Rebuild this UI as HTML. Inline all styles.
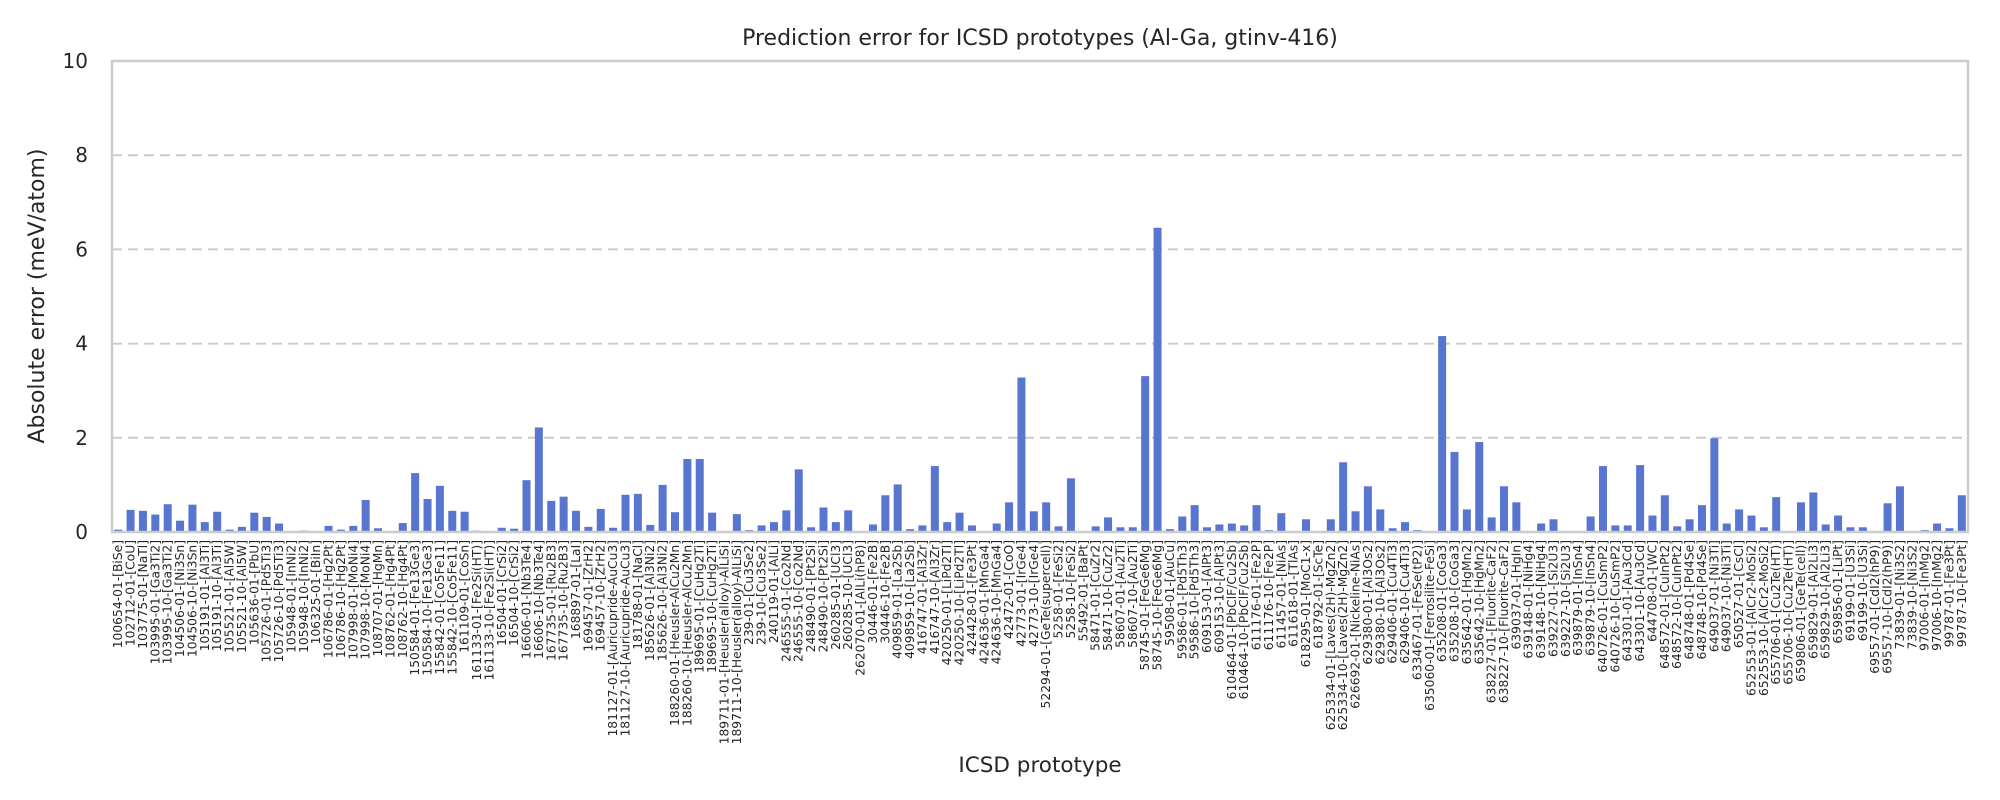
<!DOCTYPE html>
<html><head><meta charset="utf-8"><style>
html,body{margin:0;padding:0;background:#fff;}
svg{display:block;font-family:"DejaVu Sans","Liberation Sans",sans-serif;}
</style></head><body>
<svg id="chart" width="2000" height="800" viewBox="0 0 2000 800" xmlns="http://www.w3.org/2000/svg">
<text x="1040" y="45" text-anchor="middle" font-size="22" fill="#262626">Prediction error for ICSD prototypes (Al-Ga, gtinv-416)</text>
<text transform="translate(44,296) rotate(-90)" text-anchor="middle" font-size="22" fill="#262626">Absolute error (meV/atom)</text>
<text x="1040" y="772" text-anchor="middle" font-size="21.5" fill="#262626">ICSD prototype</text>
<g id="grid"></g>
<g id="bars"></g>
<g id="yticks"></g>
<g id="xticks"></g>
<rect x="112" y="61" width="1856" height="471" fill="none" stroke="#cccccc" stroke-width="2.5"/>
</svg>
<script>
const categories = ["100654-01-[BiSe]","102712-01-[CoU]","103775-01-[NaTl]","103995-01-[Ga3Ti2]","103995-10-[Ga3Ti2]","104506-01-[Ni3Sn]","104506-10-[Ni3Sn]","105191-01-[Al3Ti]","105191-10-[Al3Ti]","105521-01-[Al5W]","105521-10-[Al5W]","105636-01-[PbU]","105726-01-[Pd5Ti3]","105726-10-[Pd5Ti3]","105948-01-[InNi2]","105948-10-[InNi2]","106325-01-[BiIn]","106786-01-[Hg2Pt]","106786-10-[Hg2Pt]","107998-01-[MoNi4]","107998-10-[MoNi4]","108707-01-[HgMn]","108762-01-[Hg4Pt]","108762-10-[Hg4Pt]","150584-01-[Fe13Ge3]","150584-10-[Fe13Ge3]","155842-01-[Co5Fe11]","155842-10-[Co5Fe11]","161109-01-[CoSn]","161133-01-[Fe2Si(HT)]","161133-10-[Fe2Si(HT)]","16504-01-[CrSi2]","16504-10-[CrSi2]","16606-01-[Nb3Te4]","16606-10-[Nb3Te4]","167735-01-[Ru2B3]","167735-10-[Ru2B3]","168897-01-[LaI]","169457-01-[ZrH2]","169457-10-[ZrH2]","181127-01-[Auricupride-AuCu3]","181127-10-[Auricupride-AuCu3]","181788-01-[NaCl]","185626-01-[Al3Ni2]","185626-10-[Al3Ni2]","188260-01-[Heusler-AlCu2Mn]","188260-10-[Heusler-AlCu2Mn]","189695-01-[CuHg2Ti]","189695-10-[CuHg2Ti]","189711-01-[Heusler(alloy)-AlLiSi]","189711-10-[Heusler(alloy)-AlLiSi]","239-01-[Cu3Se2]","239-10-[Cu3Se2]","240119-01-[AlLi]","246555-01-[Co2Nd]","246555-10-[Co2Nd]","248490-01-[Pt2Si]","248490-10-[Pt2Si]","260285-01-[UCl3]","260285-10-[UCl3]","262070-01-[AlLi(hP8)]","30446-01-[Fe2B]","30446-10-[Fe2B]","409859-01-[La2Sb]","409859-10-[La2Sb]","416747-01-[Al3Zr]","416747-10-[Al3Zr]","420250-01-[LiPd2Tl]","420250-10-[LiPd2Tl]","424428-01-[Fe3Pt]","424636-01-[MnGa4]","424636-10-[MnGa4]","42472-01-[CoO]","42773-01-[IrGe4]","42773-10-[IrGe4]","52294-01-[GeTe(supercell)]","5258-01-[FeSi2]","5258-10-[FeSi2]","55492-01-[BaPt]","58471-01-[CuZr2]","58471-10-[CuZr2]","58607-01-[Au2Ti]","58607-10-[Au2Ti]","58745-01-[FeGe6Mg]","58745-10-[FeGe6Mg]","59508-01-[AuCu]","59586-01-[Pd5Th3]","59586-10-[Pd5Th3]","609153-01-[AlPt3]","609153-10-[AlPt3]","610464-01-[PbClF/Cu2Sb]","610464-10-[PbClF/Cu2Sb]","611176-01-[Fe2P]","611176-10-[Fe2P]","611457-01-[NiAs]","611618-01-[TlAs]","618295-01-[MoC1-x]","618792-01-[ScTe]","625334-01-[Laves(2H)-MgZn2]","625334-10-[Laves(2H)-MgZn2]","626692-01-[Nickeline-NiAs]","629380-01-[Al3Os2]","629380-10-[Al3Os2]","629406-01-[Cu4Ti3]","629406-10-[Cu4Ti3]","633467-01-[FeSe(tP2)]","635060-01-[Ferrosilite-FeSi]","635208-01-[CoGa3]","635208-10-[CoGa3]","635642-01-[HgMn2]","635642-10-[HgMn2]","638227-01-[Fluorite-CaF2]","638227-10-[Fluorite-CaF2]","639037-01-[HgIn]","639148-01-[NiHg4]","639148-10-[NiHg4]","639227-01-[Si2U3]","639227-10-[Si2U3]","639879-01-[InSn4]","639879-10-[InSn4]","640726-01-[CuSmP2]","640726-10-[CuSmP2]","643301-01-[Au3Cd]","643301-10-[Au3Cd]","644708-01-[WC]","648572-01-[CuInPt2]","648572-10-[CuInPt2]","648748-01-[Pd4Se]","648748-10-[Pd4Se]","649037-01-[Ni3Ti]","649037-10-[Ni3Ti]","650527-01-[CsCl]","652553-01-[AlCr2-MoSi2]","652553-10-[AlCr2-MoSi2]","655706-01-[Cu2Te(HT)]","655706-10-[Cu2Te(HT)]","659806-01-[GeTe(cell)]","659829-01-[Al2Li3]","659829-10-[Al2Li3]","659856-01-[LiPt]","69199-01-[U3Si]","69199-10-[U3Si]","69557-01-[CdI2(hP9)]","69557-10-[CdI2(hP9)]","73839-01-[Ni3S2]","73839-10-[Ni3S2]","97006-01-[InMg2]","97006-10-[InMg2]","99787-01-[Fe3Pt]","99787-10-[Fe3Pt]"];
const errors = [0.05,0.47,0.45,0.37,0.59,0.24,0.58,0.21,0.43,0.05,0.11,0.41,0.32,0.18,0,0.03,0,0.13,0.05,0.13,0.68,0.08,0,0.19,1.25,0.70,0.98,0.45,0.43,0.03,0,0.09,0.07,1.1,2.22,0.66,0.75,0.45,0.11,0.49,0.09,0.79,0.81,0.15,1.0,0.42,1.55,1.55,0.41,0,0.38,0.04,0.14,0.21,0.46,1.33,0.10,0.52,0.21,0.46,0,0.16,0.78,1.01,0.06,0.14,1.40,0.21,0.41,0.14,0,0.18,0.63,3.28,0.44,0.63,0.12,1.14,0,0.12,0.31,0.10,0.10,3.31,6.46,0.06,0.33,0.57,0.10,0.16,0.18,0.14,0.57,0.04,0.40,0,0.27,0,0.27,1.48,0.44,0.97,0.48,0.08,0.21,0.04,0,4.16,1.70,0.48,1.91,0.31,0.97,0.63,0,0.18,0.27,0,0,0.33,1.40,0.14,0.14,1.42,0.35,0.78,0.12,0.27,0.57,1.99,0.18,0.48,0.35,0.10,0.74,0.01,0.63,0.84,0.16,0.35,0.10,0.10,0,0.61,0.97,0,0.04,0.18,0.08,0.78];
const yTicks = [0,2,4,6,8,10];

const NS = "http://www.w3.org/2000/svg";
const X0 = 112, X1 = 1968, Y0 = 532, Y1 = 61, YMAX = 10;
const step = (X1 - X0) / categories.length;
function xScale(i){ return X0 + (i + 0.5) * step; }
function yScale(v){ return Y0 - (v / YMAX) * (Y0 - Y1); }
function mk(tag, attrs){ const e = document.createElementNS(NS, tag); for (const k in attrs) e.setAttribute(k, attrs[k]); return e; }

const grid = document.getElementById('grid');
const yt = document.getElementById('yticks');
yTicks.forEach(t => {
  if (t > 0 && t < YMAX) {
    const l = mk('line', {x1: X0, x2: X1, y1: yScale(t), y2: yScale(t), stroke: '#cccccc', 'stroke-width': 2, 'stroke-dasharray': '10,6'});
    
    
    grid.appendChild(l);
  }
  const tx = mk('text', {x: 88, y: yScale(t) + 7, 'text-anchor': 'end', 'font-size': 20, fill: '#262626'});
  tx.textContent = String(t);
  
  
  yt.appendChild(tx);
});

const bars = document.getElementById('bars');
const xt = document.getElementById('xticks');
const bw = 8;
categories.forEach((c, i) => {
  const v = errors[i];
  const y = yScale(v);
  const r = mk('rect', {x: xScale(i) - bw / 2, y: y, width: bw, height: Math.max(0, Y0 - y), fill: '#5875cf'});
  
  
  bars.appendChild(r);
  const t = mk('text', {transform: 'translate(' + (xScale(i) + 4) + ',540) rotate(-90)', 'text-anchor': 'end', 'font-size': 12.3, fill: '#262626'});
  t.textContent = c;
  
  
  xt.appendChild(t);
});
</script>
</body></html>
